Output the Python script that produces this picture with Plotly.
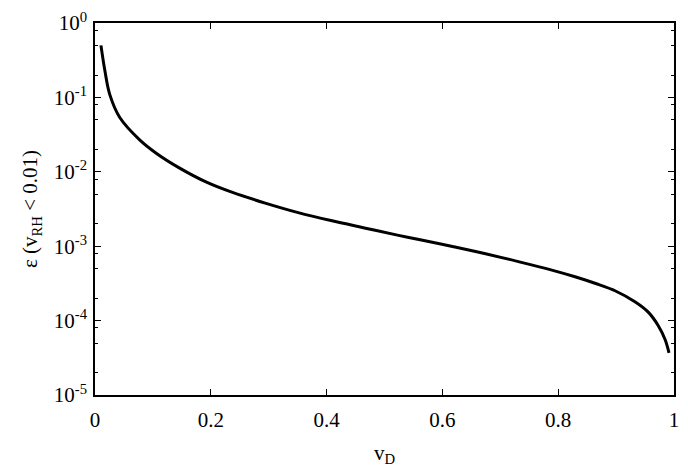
import plotly.graph_objects as go

# data
v_d = [0.0103, 0.0171, 0.0257, 0.0428, 0.0771, 0.1057, 0.1455, 0.1935, 0.2363,
       0.294, 0.351, 0.4075, 0.4652, 0.5223, 0.5616, 0.6193, 0.6764, 0.7329,
       0.7906, 0.8305, 0.8647, 0.899, 0.9332, 0.9555, 0.9726, 0.9846, 0.9914]
eps = [0.50, 0.228, 0.108, 0.0537, 0.0269, 0.0178, 0.0113, 0.0072, 0.00532,
       0.0038, 0.00283, 0.00221, 0.00176, 0.00141, 0.00122, 0.000982, 0.000785,
       0.000616, 0.000473, 0.000385, 0.000315, 0.000250, 0.000178, 0.00013,
       8.6e-5, 5.57e-5, 3.68e-5]

x_ticks = [0, 0.2, 0.4, 0.6, 0.8, 1]
x_labels = ["0", "0.2", "0.4", "0.6", "0.8", "1"]
y_ticks = [1e-5, 1e-4, 1e-3, 1e-2, 1e-1, 1]
y_labels = ["10<sup>-5</sup>", "10<sup>-4</sup>", "10<sup>-3</sup>",
            "10<sup>-2</sup>", "10<sup>-1</sup>", "10<sup>0</sup>"]
y_minor = [m * 10 ** k for k in range(-5, 0) for m in (2, 5, 8)]

font = dict(family="Liberation Serif", size=21, color="black")

fig = go.Figure()
fig.add_trace(go.Scatter(x=v_d, y=eps, mode="lines",
                         line=dict(color="black", width=3, shape="spline", smoothing=1.0),
                         showlegend=False))

fig.update_layout(
    width=688, height=473,
    margin=dict(l=95, r=9, t=13, b=78),
    paper_bgcolor="white", plot_bgcolor="white",
    font=font,
    xaxis=dict(range=[0, 1], tickvals=x_ticks, ticktext=x_labels,
               ticks="inside", ticklen=6, tickwidth=1, tickcolor="black",
               showline=True, linecolor="black", linewidth=1.5, mirror="ticks",
               showgrid=False, zeroline=False, tickfont=font,
               ticklabeloverflow="allow", ticklabelstandoff=5,
               title=dict(text="v<sub>D</sub>", standoff=14, font=font)),
    yaxis=dict(type="log", range=[-5, 0], tickvals=y_ticks, ticktext=y_labels,
               ticks="inside", ticklen=6, tickwidth=1, tickcolor="black",
               minor=dict(tickvals=y_minor, ticks="inside", ticklen=3,
                          tickcolor="black", tickwidth=1),
               showline=True, linecolor="black", linewidth=1.5, mirror="ticks",
               showgrid=False, zeroline=False, tickfont=font,
               ticklabeloverflow="allow", ticklabelstandoff=2,
               title=dict(text="ε (v<sub>RH</sub> &lt; 0.01)", standoff=10, font=font)),
)

fig.write_html("out.html")
